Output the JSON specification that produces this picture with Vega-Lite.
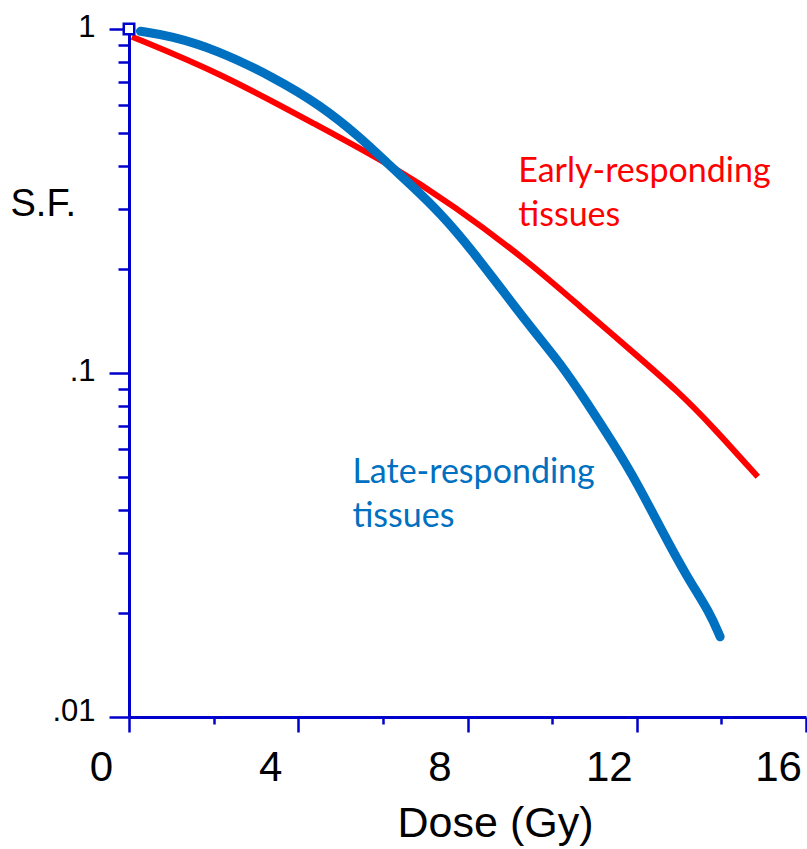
{
  "$schema": "https://vega.github.io/schema/vega-lite/v6.json",
  "autosize": {"type": "none"},
  "padding": {"left": 129, "top": 29, "right": 1, "bottom": 132},
  "width": 677,
  "height": 688,
  "background": "white",
  "config": {"view": {"stroke": null}},
  "datasets": {
    "curves": [
      {"tissue": "Early", "dose": 0.07, "sf": 0.95},
      {"tissue": "Early", "dose": 2.16, "sf": 0.745},
      {"tissue": "Early", "dose": 4.52, "sf": 0.519},
      {"tissue": "Early", "dose": 6.10, "sf": 0.408},
      {"tissue": "Early", "dose": 7.66, "sf": 0.308},
      {"tissue": "Early", "dose": 9.48, "sf": 0.209},
      {"tissue": "Early", "dose": 10.66, "sf": 0.156},
      {"tissue": "Early", "dose": 11.84, "sf": 0.117},
      {"tissue": "Early", "dose": 13.02, "sf": 0.0875},
      {"tissue": "Early", "dose": 13.80, "sf": 0.0697},
      {"tissue": "Early", "dose": 14.86, "sf": 0.0499},
      {"tissue": "Late", "dose": 0.27, "sf": 0.985},
      {"tissue": "Late", "dose": 0.98, "sf": 0.955},
      {"tissue": "Late", "dose": 2.08, "sf": 0.869},
      {"tissue": "Late", "dose": 3.41, "sf": 0.725},
      {"tissue": "Late", "dose": 4.52, "sf": 0.601},
      {"tissue": "Late", "dose": 5.46, "sf": 0.485},
      {"tissue": "Late", "dose": 6.10, "sf": 0.408},
      {"tissue": "Late", "dose": 6.72, "sf": 0.347},
      {"tissue": "Late", "dose": 7.35, "sf": 0.292},
      {"tissue": "Late", "dose": 8.06, "sf": 0.232},
      {"tissue": "Late", "dose": 9.48, "sf": 0.136},
      {"tissue": "Late", "dose": 10.19, "sf": 0.107},
      {"tissue": "Late", "dose": 10.83, "sf": 0.0818},
      {"tissue": "Late", "dose": 11.44, "sf": 0.0626},
      {"tissue": "Late", "dose": 12.01, "sf": 0.0479},
      {"tissue": "Late", "dose": 12.62, "sf": 0.0343},
      {"tissue": "Late", "dose": 13.19, "sf": 0.0255},
      {"tissue": "Late", "dose": 13.73, "sf": 0.0201},
      {"tissue": "Late", "dose": 13.97, "sf": 0.0171}
    ],
    "labels": [
      {"tissue": "Early", "dose": 9.2, "sf": 0.36, "text": ["Early-responding", "tissues"]},
      {"tissue": "Late", "dose": 5.28, "sf": 0.048, "text": ["Late-responding", "tissues"]}
    ]
  },
  "layer": [
    {
      "data": {"values": [{"sf": 1}]},
      "mark": {"type": "rule", "color": "#0000CC", "strokeWidth": 3},
      "encoding": {"y": {"field": "sf", "type": "quantitative", "scale": {"type": "log", "domain": [0.01, 1], "nice": false}}}
    },
    {
      "data": {"name": "curves"},
      "transform": [{"filter": "datum.tissue == 'Early'"}],
      "mark": {"type": "line", "color": "#FF0000", "strokeWidth": 6, "strokeCap": "butt", "interpolate": "basis"},
      "encoding": {
        "x": {"field": "dose", "type": "quantitative"},
        "y": {"field": "sf", "type": "quantitative"}
      }
    },
    {
      "data": {"name": "curves"},
      "transform": [{"filter": "datum.tissue == 'Late'"}],
      "mark": {"type": "line", "color": "#0070C0", "strokeWidth": 9, "strokeCap": "round", "strokeJoin": "round", "interpolate": "basis"},
      "encoding": {
        "x": {"field": "dose", "type": "quantitative"},
        "y": {"field": "sf", "type": "quantitative"}
      }
    },
    {
      "data": {"values": [{"dose": 0, "sf": 1}]},
      "mark": {"type": "point", "shape": "square", "size": 110, "filled": true, "fill": "white", "stroke": "#0000CC", "strokeWidth": 2.5, "opacity": 1},
      "encoding": {
        "x": {"field": "dose", "type": "quantitative"},
        "y": {"field": "sf", "type": "quantitative"}
      }
    },
    {
      "data": {"name": "labels"},
      "mark": {"type": "text", "align": "left", "baseline": "alphabetic", "font": "Lato", "fontSize": 34, "lineHeight": 44},
      "encoding": {
        "x": {"field": "dose", "type": "quantitative"},
        "y": {"field": "sf", "type": "quantitative"},
        "text": {"field": "text"},
        "color": {"field": "tissue", "type": "nominal", "scale": {"domain": ["Early", "Late"], "range": ["#FF0000", "#0070C0"]}, "legend": null}
      }
    }
  ],
  "encoding": {
    "x": {
      "field": "dose", "type": "quantitative",
      "scale": {"domain": [0, 16], "nice": false, "zero": false},
      "axis": {
        "values": [0, 2, 4, 6, 8, 10, 12, 14, 16],
        "labelExpr": "datum.value % 4 == 0 ? datum.label : ''",
        "grid": false,
        "domainColor": "#0000CC", "domainWidth": 3,
        "tickColor": "#0000CC", "tickWidth": 2.5,
        "tickSize": {"condition": {"test": "datum.value % 4 == 0", "value": 15}, "value": 7},
        "labelFont": "Liberation Sans", "labelFontSize": 42, "labelColor": "black",
        "labelPadding": 15, "labelOffset": -28, "labelBaseline": "top", "labelFlush": false, "labelOverlap": false,
        "title": "Dose (Gy)", "titleFont": "Liberation Sans", "titleFontSize": 43, "titleFontWeight": "normal", "titleColor": "black",
        "titleX": 366, "titleY": 119, "titleAlign": "center", "titleBaseline": "alphabetic", "titleAnchor": null
      }
    },
    "y": {
      "field": "sf", "type": "quantitative",
      "scale": {"type": "log", "domain": [0.01, 1], "nice": false},
      "axis": {
        "values": [0.01, 0.02, 0.03, 0.04, 0.05, 0.06, 0.07, 0.08, 0.09, 0.1, 0.2, 0.3, 0.4, 0.5, 0.6, 0.7, 0.8, 0.9, 1],
        "labelExpr": "datum.value == 1 ? '1' : datum.value == 0.1 ? '.1' : datum.value == 0.01 ? '.01' : ''",
        "grid": false,
        "domainColor": "#0000CC", "domainWidth": 3,
        "tickColor": "#0000CC", "tickWidth": 2.5,
        "tickSize": {"condition": {"test": "datum.value == 1 || datum.value == 0.1 || datum.value == 0.01", "value": 20}, "value": 11},
        "labelFont": "Liberation Sans", "labelFontSize": 31, "labelColor": "black",
        "labelPadding": 14, "labelBaseline": "middle", "labelAlign": "right", "labelOverlap": false, "labelFlush": false,
        "labelOffset": {"condition": {"test": "datum.value == 0.01", "value": -6}, "value": -2},
        "title": "S.F.", "titleFont": "Liberation Sans", "titleFontSize": 38, "titleFontWeight": "normal", "titleColor": "black",
        "titleAngle": 0, "titleX": -119, "titleY": 186, "titleAlign": "left", "titleBaseline": "alphabetic"
      }
    }
  }
}
